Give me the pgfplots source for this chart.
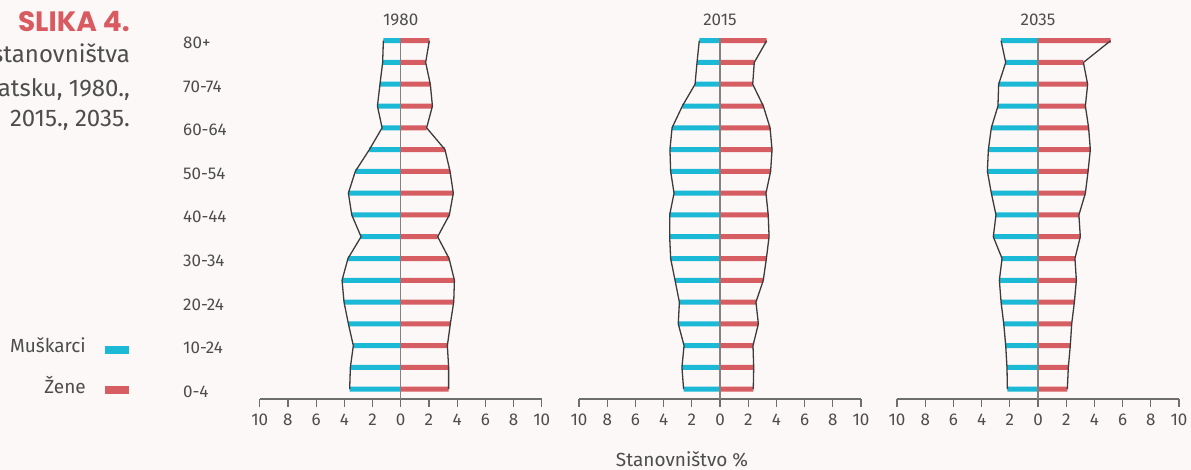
\documentclass[border=0pt]{standalone}
\usepackage{pgfplots}
\pgfplotsset{compat=1.18}
\usepackage{pgfplotstable}
\usepackage{fontspec}
\setmainfont{Fira Sans}
\newfontfamily\poppins{Poppins}
\definecolor{mcyan}{RGB}{27,185,214}
\definecolor{fred}{RGB}{214,94,99}
\definecolor{bg}{RGB}{251,248,247}
\definecolor{txt}{RGB}{77,77,77}
\definecolor{outl}{RGB}{60,60,60}
\definecolor{axg}{RGB}{110,110,110}
\definecolor{cgray}{RGB}{130,130,130}
\definecolor{slred}{RGB}{217,90,96}

% i: 0 = 0-4 ... 16 = 80+ ; m = men %, f = women %
\pgfplotstableread{
i m f
0 3.62 3.40
1 3.57 3.40
2 3.36 3.31
3 3.71 3.52
4 4.02 3.76
5 4.16 3.81
6 3.74 3.43
7 2.81 2.62
8 3.47 3.45
9 3.71 3.73
10 3.22 3.50
11 2.22 3.14
12 1.32 1.84
13 1.65 2.25
14 1.47 2.10
15 1.28 1.77
16 1.23 2.03
}\tabA
\pgfplotstableread{
i m f
0 2.58 2.36
1 2.70 2.39
2 2.55 2.34
3 2.96 2.72
4 2.88 2.55
5 3.19 3.07
6 3.50 3.29
7 3.57 3.48
8 3.57 3.42
9 3.26 3.26
10 3.50 3.59
11 3.55 3.69
12 3.40 3.55
13 2.67 3.07
14 1.77 2.32
15 1.63 2.43
16 1.47 3.31
}\tabB
\pgfplotstableread{
i m f
0 2.17 2.08
1 2.20 2.15
2 2.29 2.29
3 2.43 2.39
4 2.62 2.58
5 2.74 2.72
6 2.55 2.62
7 3.17 3.00
8 2.98 2.90
9 3.31 3.36
10 3.59 3.55
11 3.52 3.71
12 3.31 3.59
13 2.84 3.36
14 2.79 3.52
15 2.29 3.22
16 2.62 5.15
}\tabC

\pgfplotsset{
  pyr/.style={
    anchor=south west, scale only axis, width=282pt, height=369.2pt,
    xmin=-10, xmax=10, ymin=-0.45, ymax=16.5,
    axis x line*=bottom, axis y line=none,
    axis line style={draw=axg, line width=1.4pt},
    xtick={-10,-8,...,10},
    xticklabels={10,8,6,4,2,0,2,4,6,8,10},
    tick align=outside, major tick length=8pt,
    tick style={draw=axg, line width=1.2pt},
    xticklabel style={font=\fontsize{17}{20}\selectfont, text=txt, inner sep=0pt, yshift=-7pt},
    clip=false,
  },
  mbar/.style={xbar, bar width=5pt, bar shift=0pt, fill=mcyan, draw=none},
  fbar/.style={xbar, bar width=5pt, bar shift=0pt, fill=fred, draw=none},
  outline/.style={sharp plot, no marks, draw=outl, line width=1.3pt},
}
\tikzset{ttl/.style={anchor=base, text=txt, font=\fontsize{17}{20}\selectfont, yshift=3.8pt}}

\begin{document}
\begin{tikzpicture}[x=1pt,y=1pt]
\fill[bg] (-50,-10) rectangle (1250,480);

\begin{axis}[pyr, at={(259.7pt,71pt)}]
\addplot[mbar] table[y=i, x expr=-\thisrow{m}] {\tabA};
\addplot[fbar] table[y=i, x=f] {\tabA};
\addplot[outline] table[y=i, x expr=-\thisrow{m}] {\tabA};
\addplot[outline] table[y=i, x=f] {\tabA};
\draw[cgray, line width=1.2pt] (axis cs:0,16.12) -- (axis cs:0,-0.45);
\node[ttl] at (axis cs:0,16.5) {1980};
\end{axis}

\begin{axis}[pyr, at={(579pt,71pt)}]
\addplot[mbar] table[y=i, x expr=-\thisrow{m}] {\tabB};
\addplot[fbar] table[y=i, x=f] {\tabB};
\addplot[outline] table[y=i, x expr=-\thisrow{m}] {\tabB};
\addplot[outline] table[y=i, x=f] {\tabB};
\draw[cgray, line width=1.2pt] (axis cs:0,16.12) -- (axis cs:0,-0.45);
\node[ttl] at (axis cs:0,16.5) {2015};
\end{axis}

\begin{axis}[pyr, at={(897pt,71pt)}]
\addplot[mbar] table[y=i, x expr=-\thisrow{m}] {\tabC};
\addplot[fbar] table[y=i, x=f] {\tabC};
\addplot[outline] table[y=i, x expr=-\thisrow{m}] {\tabC};
\addplot[outline] table[y=i, x=f] {\tabC};
\draw[cgray, line width=1.2pt] (axis cs:0,16.12) -- (axis cs:0,-0.45);
\node[ttl] at (axis cs:0,16.5) {2035};
\end{axis}

% age labels
\foreach \i/\l in {0/0-4,2/10-24,4/20-24,6/30-34,8/40-44,10/50-54,12/60-64,14/70-74,16/80+}{
  \node[anchor=base west, text=txt, font=\fontsize{17}{20}\selectfont, inner sep=0pt] at (183,{72.7+21.79*\i}) {\l};
}

% x label
\node[anchor=base, text=txt, font=\fontsize{19}{22}\selectfont] at (682,3) {Stanovništvo \%};

% caption
\node[anchor=base east, text=slred, font=\poppins\bfseries\fontsize{28}{32}\selectfont, inner sep=0pt] at (130,438.3) {SLIKA 4.};
\node[anchor=base east, text=txt, font=\fontsize{24}{28}\selectfont, inner sep=0pt] at (130,407) {Dobna struktura stanovništva};
\node[anchor=base east, text=txt, font=\fontsize{24}{28}\selectfont, inner sep=0pt] at (130,373.5) {za Hrvatsku, 1980.,};
\node[anchor=base east, text=txt, font=\fontsize{24}{28}\selectfont, inner sep=0pt] at (130,343) {2015., 2035.};

% legend
\node[anchor=base east, text=txt, font=\fontsize{19}{22}\selectfont, inner sep=0pt] at (86,117) {Muškarci};
\fill[mcyan] (105,116) rectangle (129,124);
\node[anchor=base east, text=txt, font=\fontsize{19}{22}\selectfont, inner sep=0pt] at (86,76) {Žene};
\fill[fred] (105,76) rectangle (129,84);

\pgfresetboundingbox
\path[use as bounding box] (0,0) rectangle (1191,470);
\end{tikzpicture}
\end{document}
